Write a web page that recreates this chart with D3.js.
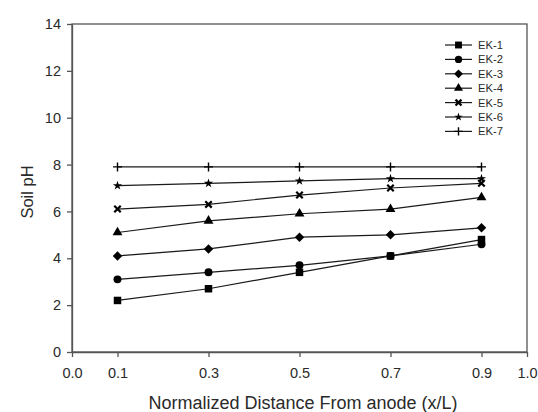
<!DOCTYPE html>
<html><head><meta charset="utf-8">
<script src="https://cdn.jsdelivr.net/npm/d3@7"></script>
<style>body{margin:0;background:#fff}svg{display:block}text{font-family:"Liberation Sans",Arial,sans-serif;fill:#2a2a2a}</style>
</head><body>
<svg id="c" width="538" height="412"></svg>
<script>
const xValues = [0.1, 0.3, 0.5, 0.7, 0.9];
const seriesNames = ["EK-1","EK-2","EK-3","EK-4","EK-5","EK-6","EK-7"];
const ek1 = [2.2, 2.7, 3.4, 4.1, 4.8];
const ek2 = [3.1, 3.4, 3.7, 4.1, 4.6];
const ek3 = [4.1, 4.4, 4.9, 5.0, 5.3];
const ek4 = [5.1, 5.6, 5.9, 6.1, 6.6];
const ek5 = [6.1, 6.3, 6.7, 7.0, 7.2];
const ek6 = [7.1, 7.2, 7.3, 7.4, 7.4];
const ek7 = [7.9, 7.9, 7.9, 7.9, 7.9];
const xTicks = [0.0, 0.1, 0.3, 0.5, 0.7, 0.9, 1.0];
const yTicks = [0, 2, 4, 6, 8, 10, 12, 14];
const allSeries = [ek1, ek2, ek3, ek4, ek5, ek6, ek7];

const diamond = { draw(ctx, size) { const r = Math.sqrt(size) / 2; ctx.moveTo(0, -r); ctx.lineTo(r, 0); ctx.lineTo(0, r); ctx.lineTo(-r, 0); ctx.closePath(); } };
const timesSym = { draw(ctx, size) { const r = Math.sqrt(size) / 2; ctx.moveTo(-r, -r); ctx.lineTo(r, r); ctx.moveTo(-r, r); ctx.lineTo(r, -r); } };
const plusSym = { draw(ctx, size) { const r = Math.sqrt(size) / 2; ctx.moveTo(-r, 0); ctx.lineTo(r, 0); ctx.moveTo(0, -r); ctx.lineTo(0, r); } };
const symbols = [d3.symbolSquare, d3.symbolCircle, diamond, d3.symbolTriangle, timesSym, d3.symbolStar, plusSym];
const sizes = [56, 50, 90, 42, 42, 26, 80];
const strokeOnly = [false, false, false, false, true, false, true];
const strokeW = [0, 0, 0, 0, 2.2, 0, 1.4];

const svg = d3.select("#c");
const L = 72, R = 527, T = 24, B = 352;
const x = d3.scaleLinear().domain([0, 1]).range([L, R]);
const y = d3.scaleLinear().domain([0, 14]).range([B, T]);

svg.append("rect").attr("x", L).attr("y", T).attr("width", R - L).attr("height", B - T)
  .attr("fill", "none").attr("stroke", "#555").attr("stroke-width", 1.3);

const xa = svg.append("g").attr("transform", `translate(0,${B})`)
  .call(d3.axisBottom(x).tickValues(xTicks).tickFormat(d3.format(".1f")).tickSize(5).tickSizeOuter(0));
const ya = svg.append("g").attr("transform", `translate(${L},0)`)
  .call(d3.axisLeft(y).tickValues(yTicks).tickFormat(d3.format("d")).tickSize(5).tickSizeOuter(0));
[xa, ya].forEach(a => {
  a.select(".domain").attr("stroke", "#555").attr("stroke-width", 1.3);
  a.selectAll(".tick line").attr("stroke", "#555").attr("stroke-width", 1.3);
  a.selectAll("text").attr("font-size", 14.5).style("font-family", '"Liberation Sans",Arial,sans-serif').attr("fill", "#2a2a2a");
});
xa.selectAll("text").attr("y", 26).attr("dy", "0");
ya.selectAll("text").attr("x", -11);

svg.append("text").attr("x", 303).attr("y", 409).attr("text-anchor", "middle")
  .attr("font-size", 18).text("Normalized Distance From anode (x/L)");
svg.append("text").attr("transform", `translate(33,192) rotate(-90)`).attr("text-anchor", "middle")
  .attr("font-size", 16.5).text("Soil pH");

const line = d3.line().x((d, i) => x(xValues[i])).y(d => y(d));
function mark(sel, k, scale) {
  sel.attr("d", d3.symbol().type(symbols[k]).size(sizes[k] * scale))
    .attr("fill", strokeOnly[k] ? "none" : "#000")
    .attr("stroke", strokeOnly[k] ? "#000" : "none")
    .attr("stroke-width", strokeW[k]);
}
allSeries.forEach((s, k) => {
  svg.append("path").datum(s).attr("d", line).attr("fill", "none").attr("stroke", "#1a1a1a").attr("stroke-width", 1.2);
  svg.selectAll(null).data(s).enter().append("path")
    .attr("transform", (d, i) => `translate(${x(xValues[i])},${y(d)})`)
    .call(mark, k, 1);
});

const lg = svg.append("g");
seriesNames.forEach((n, k) => {
  const yy = 45 + k * 14.4;
  lg.append("line").attr("x1", 445).attr("x2", 472).attr("y1", yy).attr("y2", yy).attr("stroke", "#1a1a1a").attr("stroke-width", 1.2);
  lg.append("path").attr("transform", `translate(458.5,${yy})`).call(mark, k, 0.85);
  lg.append("text").attr("x", 478).attr("y", yy + 4).attr("font-size", 11.2).text(n);
});
</script>
</body></html>
